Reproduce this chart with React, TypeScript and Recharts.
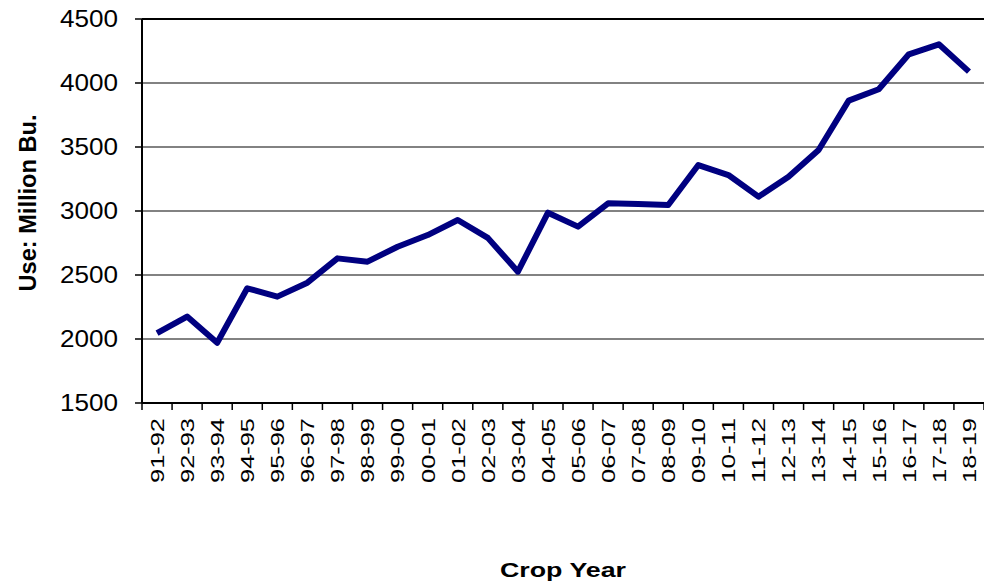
import {
  LineChart, Line, XAxis, YAxis, CartesianGrid, ReferenceLine, Label,
} from 'recharts'

// 作物年度
const cropYears = [
  '91-92', '92-93', '93-94', '94-95', '95-96', '96-97', '97-98', '98-99', '99-00', '00-01',
  '01-02', '02-03', '03-04', '04-05', '05-06', '06-07', '07-08', '08-09', '09-10', '10-11',
  '11-12', '12-13', '13-14', '14-15', '15-16', '16-17', '17-18', '18-19',
]

// Use: Million Bu.
const useMillionBu = [
  2045, 2175, 1971, 2396, 2331, 2440, 2630, 2604, 2721, 2812,
  2930, 2790, 2526, 2987, 2878, 3060, 3055, 3047, 3359, 3281,
  3112, 3268, 3477, 3862, 3951, 4224, 4302, 4089,
]

const yTicks = [1500, 2000, 2500, 3000, 3500, 4000, 4500]

const data = cropYears.map((year, i) => ({ year, use: useMillionBu[i] }))

const FONT = '"Liberation Sans", Arial, sans-serif'

const YTick = ({ x, y, payload }: any) => (
  <text x={x} y={y} dy="0.36em" textAnchor="end" fontFamily={FONT} fontSize={23} fill="#000"
    textLength={String(payload.value).length * 14.5} lengthAdjust="spacingAndGlyphs">
    {payload.value}
  </text>
)

// label at the band centre, tick marks on the band boundaries (like Excel)
const XTick = ({ x, y, payload, index, visibleTicksCount }: any) => {
  const half = payload.offset ?? 15
  const axisY = y - 15
  return (
    <g>
      <line x1={x - half} x2={x - half} y1={axisY} y2={axisY + 7} stroke="#000" strokeWidth={1.5} />
      {index === visibleTicksCount - 1 && (
        <line x1={x + half} x2={x + half} y1={axisY} y2={axisY + 7} stroke="#000" strokeWidth={1.5} />
      )}
      <g transform={`translate(${x},${y})`}>
        <text transform="rotate(-90)" textAnchor="end" dy="0.36em" fontFamily={FONT} fontSize={19} fill="#000"
          textLength={65} lengthAdjust="spacingAndGlyphs">
          {payload.value}
        </text>
      </g>
    </g>
  )
}

export default function App() {
  return (
    <div style={{ position: 'absolute', left: 0, top: 0, background: '#fff' }}>
      <LineChart width={984} height={586} data={data} margin={{ top: 19, right: 0, left: 0, bottom: 0 }}>
        <CartesianGrid vertical={false} stroke="#595959" strokeWidth={1.5} />
        <XAxis dataKey="year" scale="band" interval={0} height={183} tickLine={false} tickSize={7} tickMargin={8}
          axisLine={{ stroke: '#000', strokeWidth: 2 }} tick={<XTick />}>
          <Label content={({ viewBox }: any) => (
            <text x={viewBox.x + viewBox.width / 2} y={viewBox.y + 174} textAnchor="middle"
              fontFamily={FONT} fontWeight="bold" fontSize={21} fill="#000"
              textLength={126} lengthAdjust="spacingAndGlyphs">Crop Year</text>
          )} />
        </XAxis>
        <YAxis width={142} domain={[1500, 4500]} ticks={yTicks} interval={0} tickSize={7} tickMargin={17}
          axisLine={{ stroke: '#000', strokeWidth: 2 }} tickLine={{ stroke: '#000', strokeWidth: 1.5 }} tick={<YTick />}>
          <Label content={({ viewBox }: any) => {
            const cx = viewBox.x + 28
            const cy = viewBox.y + viewBox.height / 2 - 8
            return (
              <text x={cx} y={cy} transform={`rotate(-90, ${cx}, ${cy})`} textAnchor="middle" dy="0.36em"
                fontFamily={FONT} fontWeight="bold" fontSize={23} fill="#000"
                textLength={177} lengthAdjust="spacingAndGlyphs">Use: Million Bu.</text>
            )
          }} />
        </YAxis>
        <ReferenceLine y={4500} stroke="#000" strokeWidth={2} />
        <Line type="linear" dataKey="use" stroke="#000080" strokeWidth={6} dot={false}
          strokeLinejoin="round" isAnimationActive={false} />
      </LineChart>
    </div>
  )
}
